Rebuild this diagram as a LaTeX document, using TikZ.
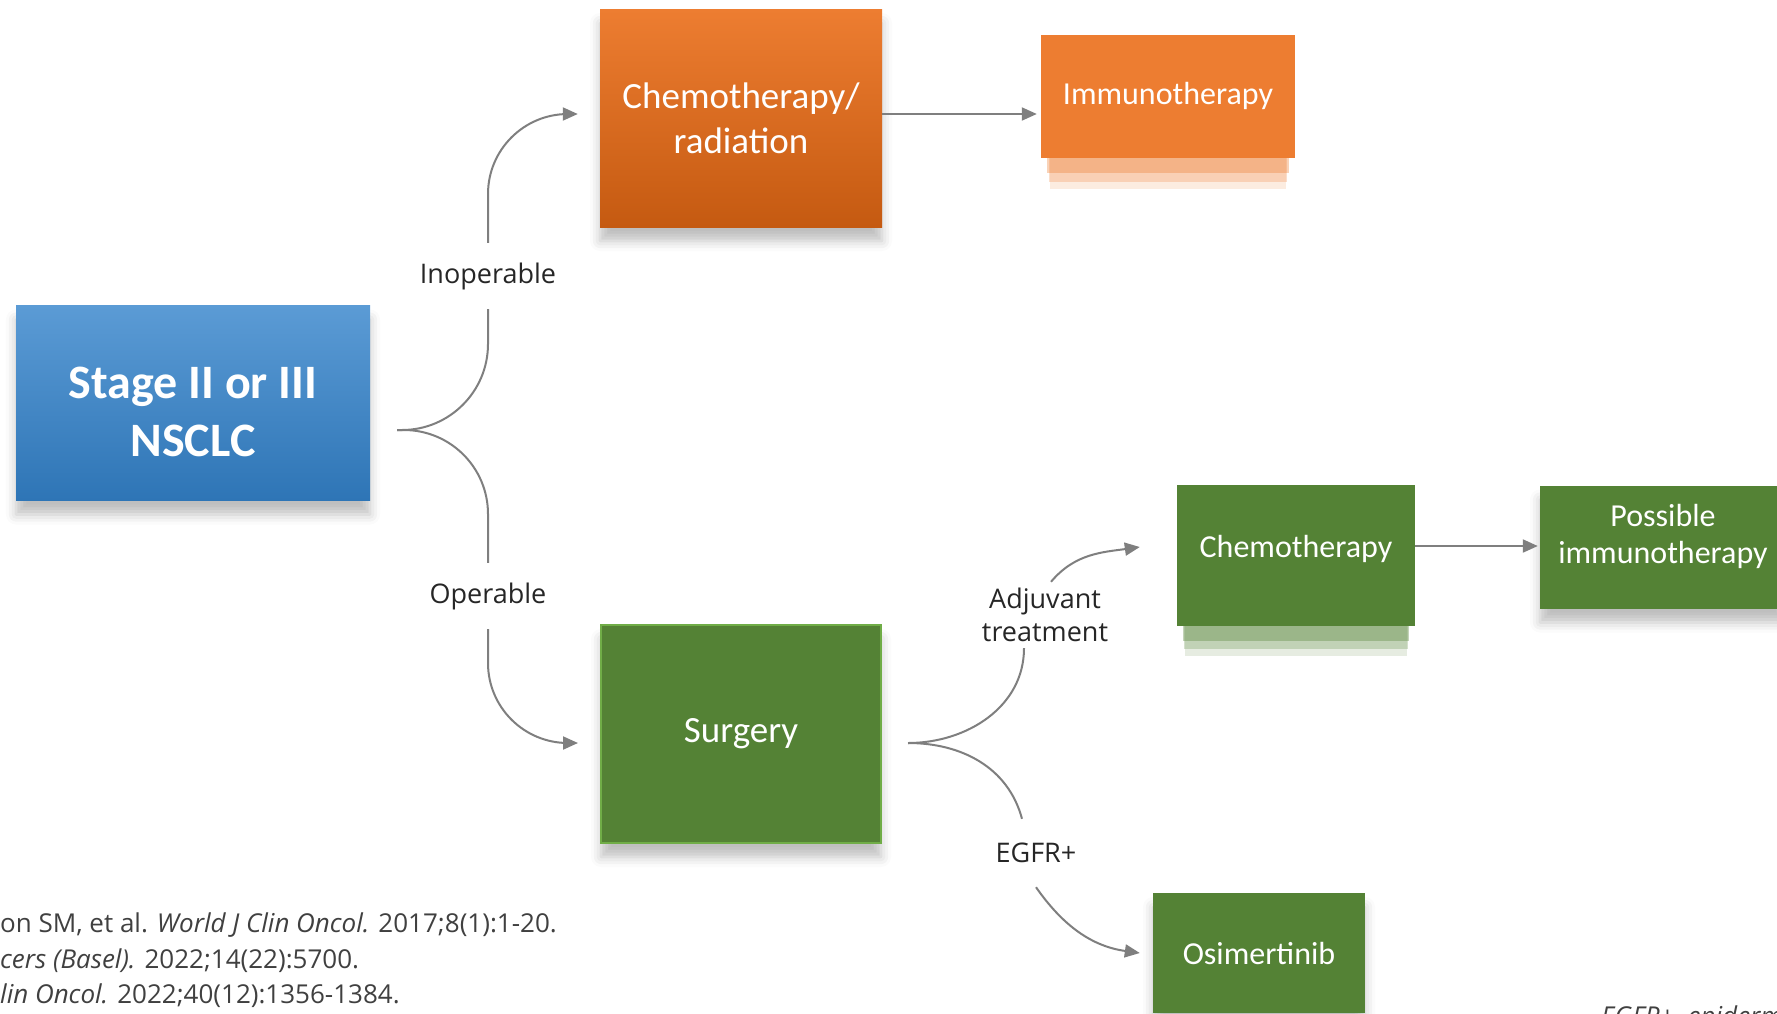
\documentclass[tikz,border=0pt]{standalone}
\usepackage{fontspec}
\setmainfont{Carlito}
\newfontfamily\labelfont{Open Sans}
\usetikzlibrary{shadows, shadows.blur, arrows.meta, positioning}
\definecolor{my_bluetop}{RGB}{91, 155, 213}
\definecolor{my_bluebottom}{RGB}{46, 117, 182}
\definecolor{my_orange}{RGB}{237, 125, 49}
\definecolor{my_darkorange}{RGB}{197, 90, 17}
\definecolor{my_green}{RGB}{84, 130, 53}
\definecolor{my_lightgreen}{RGB}{112, 173, 71}
\definecolor{my_gray}{RGB}{127, 127, 127}
\definecolor{my_text}{RGB}{38, 38, 38}
\definecolor{my_reftext}{RGB}{64, 64, 64}
\tikzset {
  box/.style = {rectangle, inner sep=0pt, align=center, text=white,
                blur shadow={shadow xshift=0pt, shadow yshift=-14pt, shadow blur radius=10pt, shadow opacity=25}},
  glowbox/.style = {rectangle, inner sep=0pt, align=center, text=white, fill=#1,
                drop shadow={fill=#1, opacity=0.15, shadow xshift=0pt, shadow yshift=-38pt, shadow scale=0.93},
                drop shadow={fill=#1, opacity=0.25, shadow xshift=0pt, shadow yshift=-30pt, shadow scale=0.94},
                drop shadow={fill=#1, opacity=0.35, shadow xshift=0pt, shadow yshift=-20pt, shadow scale=0.95}},
  bigtext/.style = {font=\fontsize{37}{45}\selectfont},
  smalltext/.style = {font=\fontsize{32}{37}\selectfont},
  lbl/.style = {inner sep=0pt, minimum height=66pt, align=center, text=my_text, font=\labelfont\fontsize{27}{33}\selectfont},
  ref/.style = {inner sep=0pt, anchor=base west, text=my_reftext, font=\labelfont\fontsize{26}{30}\selectfont},
  line/.style = {draw=my_gray, line width=2pt},
  arrow/.style = {line, -{Triangle[length=15pt, width=13pt]}}
}

\begin{document}
\begin{tikzpicture}[x=1pt, y=1pt]
    \clip (0,0) rectangle (1777,-1013);

    % boxes
    \node[box, minimum width=354pt, minimum height=195pt, top color=my_bluetop, bottom color=my_bluebottom,
          font=\fontsize{48}{58}\selectfont\bfseries] (stage) at (193,-403) {\rule{0pt}{49pt}Stage II or III\\NSCLC};
    \node[box, bigtext, minimum width=282pt, minimum height=218pt, top color=my_orange, bottom color=my_darkorange] (chemorad) at (741,-118) {Chemotherapy/\\radiation};
    \node[glowbox=my_orange, smalltext, minimum width=254pt, minimum height=123pt] (immuno) at (1168,-96) {Immunotherapy};
    \node[box, bigtext, minimum width=280pt, minimum height=218pt, fill=my_green, draw=my_lightgreen, line width=2pt] (surgery) at (741,-734) {Surgery};
    \node[glowbox=my_green, smalltext, minimum width=238pt, minimum height=141pt] (chemo) at (1296,-555) {Chemotherapy\rule[-18pt]{0pt}{18pt}};
    \node[box, smalltext, fill=my_green, minimum width=246pt, minimum height=123pt] (possimm) at (1663,-547) {Possible\\immunotherapy\rule[-26pt]{0pt}{26pt}};
    \node[box, smalltext, fill=my_green, minimum width=212pt, minimum height=120pt] (osim) at (1259,-953) {Osimertinib};

    % branch labels
    \node[lbl] (inop) at (488,-276) {Inoperable};
    \node[lbl] (oper) at (488,-596) {Operable};
    \node[lbl] (adj) at (1045,-615) {Adjuvant\\treatment};
    \node[lbl, minimum height=68pt] (egfr) at (1036,-853) {EGFR+};

    \coordinate (fork1) at (397,-430);
    \coordinate (fork2) at ([xshift=26pt, yshift=-9pt]surgery.east);

    % connectors
    \draw[line, rounded corners=86pt] (fork1) -| (inop.south);
    \draw[arrow, rounded corners=80pt, shorten >=22pt] (inop.north) |- ([yshift=4pt]chemorad.west);
    \draw[line, rounded corners=84pt] (fork1) -| (oper.north);
    \draw[arrow, rounded corners=80pt, shorten >=22pt] (oper.south) |- ([yshift=-9pt]surgery.west);
    \draw[arrow, shorten >=4pt] ([yshift=4pt]chemorad.east) -- ([yshift=4pt]chemorad.east -| immuno.west);

    \draw[line] (fork2) to[out=0, in=-90] ([xshift=-21pt]adj.south);
    \draw[arrow] ([xshift=6pt]adj.north) to[out=50, in=188] ([xshift=-37pt, yshift=8pt]chemo.west);
    \draw[line] (fork2) to[out=0, in=105] ([xshift=-14pt]egfr.north);
    \draw[arrow] (egfr.south) to[out=-55, in=172] ([xshift=-13pt]osim.west);
    \draw[arrow, shorten >=2pt] ([yshift=9pt]chemo.east) -- ([yshift=9pt]chemo.east -| possimm.west);

    % references
    \node[ref] (ref1) at (0,-932) {on SM, et al. \textit{World J Clin Oncol.} 2017;8(1):1-20.};
    \node[ref] (ref2) at (0,-968) {\textit{cers (Basel).} 2022;14(22):5700.};
    \node[ref] (ref3) at (0,-1003) {\textit{lin Oncol.} 2022;40(12):1356-1384.};
    \node[ref] (abbr) at (1601,-1025) {\textit{EGFR+, epidermal growth factor receptor.}};
\end{tikzpicture}
\end{document}
